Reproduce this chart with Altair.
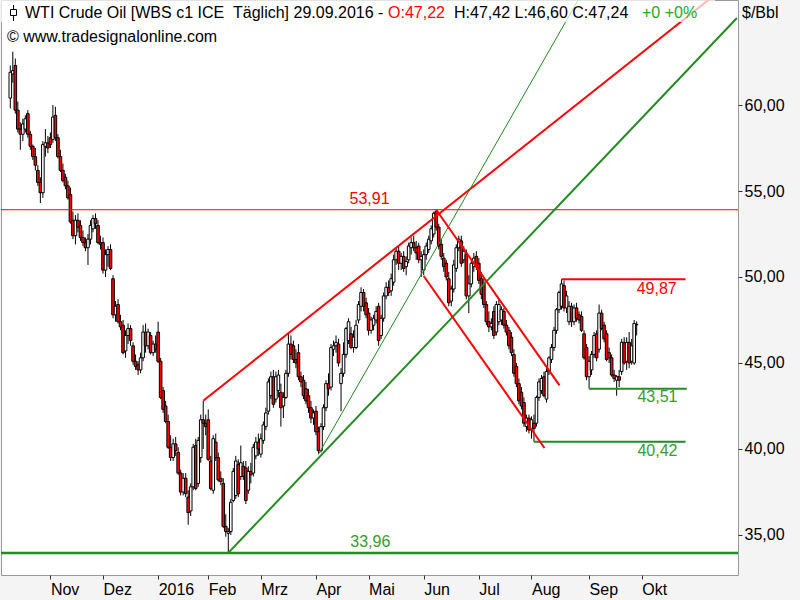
import altair as alt
import pandas as pd

# ---------------- data ----------------
opens = [60.4,61.8,62.3,59.7,58.6,58.3,58.6,59.5,58.3,57.6,
 57.0,56.2,55.5,54.9,57.6,57.8,58.1,58.0,59.4,58.1,
 57.0,56.2,55.8,55.3,54.8,53.3,52.4,53.3,53.0,52.3,
 52.0,51.7,52.2,52.8,53.4,53.0,52.0,52.0,50.4,51.3,
 51.6,49.9,47.8,48.4,47.4,47.2,45.7,46.6,47.0,46.0,
 45.1,44.9,44.6,45.3,46.8,46.0,46.6,45.6,46.1,46.8,
 45.1,43.4,42.5,41.6,40.1,39.5,40.3,39.8,38.6,37.5,
 38.3,37.2,36.4,37.8,40.2,38.0,39.5,41.7,41.5,41.7,
 39.3,37.6,40.4,39.5,38.3,38.0,35.5,35.1,35.2,37.0,
 37.3,39.1,38.4,39.0,38.9,37.6,38.7,38.6,39.6,40.4,
 39.7,40.5,41.3,42.2,43.1,44.2,42.9,43.4,43.3,42.5,
 43.0,44.4,46.1,46.0,45.2,45.6,44.2,44.0,43.5,43.1,
 42.4,41.8,42.2,41.0,39.9,41.3,42.4,43.8,43.6,45.8,
 46.0,46.1,43.8,44.4,45.5,46.3,46.7,45.9,45.9,47.5,
 48.3,49.1,48.5,47.9,46.9,47.2,47.5,48.3,46.6,47.6,
 48.9,49.4,49.2,49.7,51.0,51.5,50.8,51.2,50.6,51.0,
 51.7,52.0,51.7,51.8,51.0,50.4,51.3,51.6,52.1,52.5,
 53.8,52.9,51.9,51.1,50.8,49.9,48.6,49.3,50.5,51.7,
 52.1,51.0,51.3,48.9,49.6,50.6,51.2,50.8,49.9,49.6,
 48.4,47.4,47.1,48.0,46.8,47.4,47.5,48.0,47.2,46.9,
 46.5,45.5,44.8,43.8,43.3,42.7,41.3,41.8,41.1,41.5,
 41.5,43.0,43.4,44.2,42.9,44.5,45.2,45.9,46.9,48.1,
 48.3,49.5,48.2,47.4,48.3,47.4,48.2,47.8,47.7,46.7,
 45.9,44.2,44.6,45.5,46.7,45.8,47.9,47.2,46.7,45.6,
 45.3,44.3,44.0,44.2,44.5,46.2,45.1,46.2,45.1,45.0,
 47.22]

highs = [62.3,63.1,62.7,60.2,59.0,59.2,59.4,59.7,58.5,57.7,
 57.5,56.5,55.8,57.9,58.6,58.2,58.4,60.0,59.9,58.3,
 57.4,56.6,56.0,55.6,55.2,53.8,53.6,53.7,53.3,52.7,
 52.3,52.5,53.3,53.6,53.7,53.3,52.4,52.3,51.6,51.8,
 51.9,50.1,48.6,48.7,47.8,47.5,46.9,47.3,47.2,46.2,
 45.5,45.1,45.6,47.2,47.3,47.0,46.8,46.3,46.6,47.4,
 45.3,43.6,42.8,42.0,40.8,40.6,40.7,40.1,38.8,38.6,
 38.6,37.6,38.0,40.3,40.6,40.7,42.0,42.8,42.0,42.3,
 39.6,40.8,40.9,39.8,38.7,38.3,36.2,35.4,37.1,38.9,
 39.6,39.4,40.2,39.3,39.3,39.0,39.2,40.3,40.7,40.9,
 40.9,41.6,42.4,44.1,44.5,44.6,44.5,44.6,43.8,43.3,
 44.6,46.8,46.6,46.3,45.8,46.1,44.5,44.3,43.9,43.5,
 42.8,42.3,42.5,41.3,41.5,42.6,44.0,44.4,46.1,46.3,
 46.6,46.4,44.7,46.2,47.1,47.6,47.1,46.9,47.5,48.6,
 49.4,49.3,48.8,48.2,47.7,47.8,48.3,48.5,47.8,49.1,
 49.7,49.8,50.2,51.3,51.7,51.8,51.4,51.5,51.2,52.0,
 52.3,52.4,52.1,52.0,51.5,51.6,52.0,52.4,53.0,53.8,
 53.91,53.1,52.2,51.4,51.0,50.3,49.5,51.0,51.9,52.4,
 52.4,51.8,51.6,50.1,51.0,51.4,51.5,51.1,50.3,49.9,
 48.6,48.0,47.6,48.3,48.6,48.7,48.3,48.2,47.5,47.1,
 46.8,45.8,45.0,44.1,43.6,43.0,42.0,42.0,41.9,42.0,
 43.1,44.1,44.3,44.5,44.7,45.4,46.1,47.1,48.2,49.2,
 49.87,49.8,49.2,48.6,48.5,48.4,48.5,48.0,48.0,46.9,
 46.1,45.4,45.7,46.8,46.9,48.4,48.1,47.4,46.9,45.9,
 45.5,44.6,44.3,44.6,46.4,46.5,46.5,46.8,46.4,47.5,
 47.42]

lows = [59.8,61.3,59.5,58.4,57.4,57.9,58.4,58.1,57.4,56.8,
 56.2,55.3,54.3,54.6,57.0,57.2,57.5,57.8,57.9,56.9,
 56.1,55.5,55.1,54.5,53.1,52.2,51.9,52.6,52.1,51.8,
 51.5,50.7,51.9,52.6,52.8,51.9,51.6,50.2,50.0,50.6,
 50.4,47.6,47.4,47.3,46.9,45.5,45.3,46.1,46.0,44.9,
 44.6,44.3,44.4,45.1,45.6,45.8,45.5,45.4,45.6,45.0,
 42.9,42.1,41.5,40.0,39.3,39.3,39.6,38.5,37.3,37.3,
 37.2,35.6,36.1,37.6,37.6,37.8,39.2,40.0,40.8,39.3,
 37.6,37.4,39.3,38.1,37.9,35.4,34.9,33.96,35.0,36.9,
 37.1,37.2,38.2,38.2,36.8,37.4,38.0,38.4,39.4,39.6,
 39.5,40.3,41.1,42.0,42.9,42.4,42.7,43.0,41.3,41.8,
 42.9,44.2,45.2,45.0,44.7,44.0,43.6,42.9,42.6,42.1,
 41.5,41.4,40.8,39.7,39.8,41.1,42.2,43.1,43.4,45.4,
 45.6,44.8,42.2,44.2,45.3,46.1,45.8,45.6,45.8,47.3,
 48.0,48.0,47.6,46.6,46.7,46.9,47.3,46.0,46.4,47.4,
 48.7,48.9,48.9,49.5,50.7,50.4,50.4,50.3,50.1,50.8,
 51.3,51.5,51.0,50.8,50.0,50.1,51.0,51.4,51.9,52.3,
 52.7,51.6,51.0,50.3,49.8,48.3,48.3,49.1,50.3,51.5,
 50.6,50.8,48.7,47.9,49.4,50.3,50.4,49.6,48.7,48.2,
 47.2,46.8,46.9,46.4,46.6,47.2,47.2,47.0,46.6,45.8,
 45.4,44.2,43.6,42.6,42.3,41.3,41.0,40.9,40.6,40.42,
 41.3,42.8,43.2,43.0,42.7,44.3,45.0,45.7,46.7,47.9,
 48.1,48.0,47.9,47.2,47.1,47.2,47.4,47.3,46.8,45.2,
 44.0,43.51,44.3,45.3,45.1,45.6,46.9,46.2,45.1,45.0,
 44.2,43.9,43.1,43.6,44.3,44.9,44.6,44.7,44.9,44.9,
 46.60]

closes = [61.9,62.0,59.7,58.6,58.3,58.9,59.2,58.3,57.6,57.0,
 56.5,55.5,54.9,57.7,57.8,57.5,57.7,59.3,58.1,57.0,
 56.2,55.6,55.3,54.6,53.2,52.4,53.3,52.9,52.3,52.0,
 51.7,52.2,53.0,53.4,53.1,52.0,51.9,50.4,51.3,51.6,
 50.5,47.8,48.3,47.4,47.1,45.6,46.6,47.0,46.3,45.1,
 44.8,44.6,45.3,46.8,46.0,46.8,45.6,46.1,45.8,45.1,
 43.0,42.3,41.6,40.1,39.5,40.3,39.9,38.6,37.5,38.3,
 37.4,36.3,37.8,40.1,37.7,40.5,41.7,41.5,41.3,39.4,
 37.7,40.6,39.5,38.2,38.1,35.5,35.2,35.2,36.9,38.7,
 39.3,37.4,39.2,38.4,37.0,38.7,38.5,40.1,40.4,40.0,
 40.6,41.4,42.1,43.9,44.2,42.6,44.2,44.3,42.4,43.0,
 44.4,46.1,45.5,45.2,45.0,44.2,43.9,43.1,42.8,42.4,
 41.8,42.1,41.0,39.9,41.3,42.4,43.8,43.5,45.9,46.0,
 46.2,45.0,44.4,45.5,47.0,47.4,45.9,46.5,47.2,48.4,
 49.1,48.3,47.8,46.9,47.5,47.6,48.0,46.3,47.6,48.9,
 49.4,49.1,49.9,51.0,51.5,50.8,51.2,50.5,50.9,51.8,
 52.0,51.7,51.4,51.0,51.2,51.3,51.8,52.2,52.8,53.7,
 52.9,51.8,51.2,50.6,50.0,48.5,49.3,50.7,51.7,52.2,
 50.8,51.5,48.9,49.6,50.8,51.1,50.6,49.8,49.0,48.4,
 47.4,47.1,47.3,46.6,48.4,48.4,48.1,47.2,46.8,46.0,
 45.6,44.4,43.8,42.8,42.5,41.5,41.8,41.1,41.7,41.2,
 43.0,43.9,44.1,43.1,44.5,45.3,45.9,46.9,48.1,49.1,
 49.6,48.2,48.9,48.3,47.4,48.2,47.6,47.5,46.9,45.3,
 44.2,45.1,45.5,46.6,45.3,47.9,47.0,46.4,45.2,45.3,
 44.3,44.1,44.2,44.0,46.2,45.0,46.2,45.0,46.0,47.3,
 47.24]

# month tick positions (bar index of first trading day) and labels
month_ticks = [16, 37, 59, 79, 100, 122, 143, 165, 187, 208, 231, 252]
month_labels = ["Nov", "Dez", "2016", "Feb", "Mrz", "Apr", "Mai", "Jun", "Jul", "Aug", "Sep", "Okt"]
price_ticks = [35, 40, 45, 50, 55, 60]

# horizontal levels: value, start bar, end bar
level_values = [53.91, 33.96, 49.87, 43.51, 40.42]
level_start = [-5, -5, 220, 231, 209]
level_end = [295, 295, 269.5, 270, 269.5]
level_label_bar = [135.4, 135.7, 250.0, 250.3, 250.3]

# trend lines: anchor points (bar, price)
trend_x1 = [77, 87, 123, 170, 165]
trend_y1 = [42.8, 33.96, 39.7, 53.91, 50.06]
trend_x2 = [290, 290, 290, 219.2, 213.2]
trend_y2 = [67.42, 65.06, 82.25, 43.7, 40.06]

RED = "#ff0000"
GREEN = "#228b22"
TXT_GREEN = "#3a9a2a"
FONT = "Liberation Sans"

N = len(closes)
assert len(opens) == N and len(highs) == N and len(lows) == N, (len(opens), len(highs), len(lows), N)

bars = pd.DataFrame({"i": list(range(N)), "o": opens, "h": highs, "l": lows, "c": closes})
bars["top"] = bars[["o", "c"]].max(axis=1)
bars["bot"] = bars[["o", "c"]].min(axis=1)
bars["fill"] = [RED if c < o else "#ffffff" for o, c in zip(opens, closes)]

levels = pd.DataFrame({
    "v": level_values, "x1": level_start, "x2": level_end, "lx": level_label_bar,
    "col": [RED, GREEN, RED, GREEN, GREEN],
    "tcol": [RED, TXT_GREEN, RED, TXT_GREEN, TXT_GREEN],
    "w": [1, 2.5, 2, 2, 2],
    "off": [0.62, 0.63, -0.57, -0.49, -0.54],
})
levels["txt"] = [f"{v:.2f}".replace(".", ",") for v in level_values]
levels["ly"] = levels["v"] + levels["off"]

trends = pd.DataFrame({
    "x1": trend_x1, "y1": trend_y1, "x2": trend_x2, "y2": trend_y2,
    "col": [RED, GREEN, GREEN, RED, RED],
    "w": [2, 2, 1, 2, 2],
})

xs = alt.Scale(domain=[-1.717, 288.44], nice=False, zero=False)
ys = alt.Scale(domain=[32.674, 66.105], nice=False, zero=False)

label_expr = ("[" + ",".join(f"'{m}'" for m in month_labels) + "][indexof(["
              + ",".join(str(t) for t in month_ticks) + "], datum.value)]")

x_axis = alt.Axis(values=month_ticks, labelExpr=label_expr, tickSize=4, tickColor="#333333",
                  labelAlign="left", labelBaseline="top", labelPadding=2,
                  labelFontSize=16, labelFont=FONT, labelColor="black", domain=False,
                  grid=False, title=None, labelOverlap=False, labelFlush=False)
y_axis = alt.Axis(orient="right", values=price_ticks,
                  labelExpr="replace(format(datum.value, '.2f'), '.', ',')",
                  tickSize=4, tickColor="#333333", labelPadding=2, labelFontSize=16,
                  labelFont=FONT, labelColor="black", labelAlign="left", labelBaseline="middle",
                  domain=False, grid=False, title=None)


def X(field):
    return alt.X(field, type="quantitative", scale=xs, axis=x_axis)


def Y(field):
    return alt.Y(field, type="quantitative", scale=ys, axis=y_axis)


base = alt.Chart(bars)

wicks = base.mark_rule(color="black", strokeWidth=1).encode(
    x=X("i"), y=Y("l"), y2="h:Q",
)
bodies = base.mark_bar(width=2.6, stroke="black", strokeWidth=1).encode(
    x=X("i"), y=Y("bot"), y2="top:Q",
    fill=alt.Fill("fill:N", scale=None),
)

level_rules = alt.Chart(levels).mark_rule(clip=True).encode(
    x=X("x1"), x2="x2:Q", y=Y("v"),
    color=alt.Color("col:N", scale=None),
    strokeWidth=alt.StrokeWidth("w:Q", scale=None),
)
level_text = alt.Chart(levels).mark_text(align="left", baseline="middle", fontSize=16, font=FONT).encode(
    x=X("lx"), y=Y("ly"),
    text="txt:N",
    color=alt.Color("tcol:N", scale=None),
)
trend_rules = alt.Chart(trends).mark_rule(clip=True).encode(
    x=X("x1"), x2="x2:Q", y=Y("y1"), y2="y2:Q",
    color=alt.Color("col:N", scale=None),
    strokeWidth=alt.StrokeWidth("w:Q", scale=None),
)

one = pd.DataFrame({"k": [0]})
header_box = alt.Chart(one).mark_rect(color="white", opacity=0.72).encode(
    x=alt.value(0), x2=alt.value(714), y=alt.value(0), y2=alt.value(22))
icon_line = alt.Chart(one).mark_rule(color="black", strokeWidth=1).encode(
    x=alt.value(12.5), y=alt.value(5), y2=alt.value(21))
icon_box = alt.Chart(one).mark_rect(fill="white", stroke="black", strokeWidth=1).encode(
    x=alt.value(9.5), x2=alt.value(15.5), y=alt.value(9.5), y2=alt.value(15.5))


def label(txt, px, py, color="black", align="left"):
    return alt.Chart(pd.DataFrame({"t": [txt]})).mark_text(
        align=align, baseline="alphabetic", fontSize=16, font=FONT, color=color
    ).encode(x=alt.value(px), y=alt.value(py), text="t:N")


head = [
    label("WTI Crude Oil [WBS c1 ICE \u00a0Täglich] 29.09.2016 - ", 24, 18),
    label("O:47,22", 387, 18, RED),
    label("H:47,42 L:46,60 C:47,24", 453, 18),
    label("+0 +0%", 641, 18, "#22aa22"),
    label("© www.tradesignalonline.com", 6, 42),
    label("$/Bbl", 741, 18),
]

chart = alt.layer(
    wicks, bodies, level_rules, trend_rules, level_text,
    header_box, icon_line, icon_box, *head
).properties(
    width=737, height=575,
    padding={"left": 1, "top": 0, "right": 62, "bottom": 25},
    autosize="none",
    background="#f4f4f4",
).configure_view(
    stroke="#999999", strokeWidth=1, fill="white"
)

chart.save("out.html", embed_options={"renderer": "svg", "actions": False})
